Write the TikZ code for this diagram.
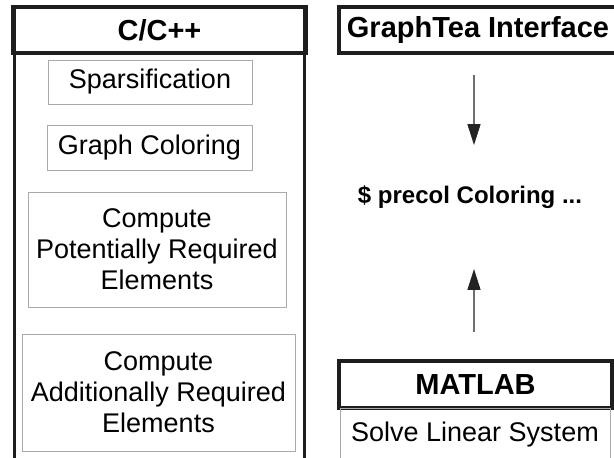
\documentclass[tikz,border=0pt]{standalone}
\usepackage{fontspec}
\setmainfont{Liberation Sans}
\usepackage{tikz}
\usetikzlibrary{arrows.meta, positioning}
\definecolor{framecolor}{RGB}{30, 30, 30}
\definecolor{boxcolor}{RGB}{170, 170, 170}
\definecolor{arrowcolor}{RGB}{110, 110, 110}
\definecolor{headcolor}{RGB}{35, 35, 35}

\tikzset{
    header/.style={draw=framecolor, line width=4.5pt, minimum height=46pt, inner sep=0pt, font=\fontsize{29}{33}\selectfont\bfseries},
    stepbox/.style={draw=boxcolor, line width=1pt, inner sep=0pt, align=center, font=\fontsize{27}{31}\selectfont},
    flow/.style={draw=arrowcolor, line width=1.5pt, -{Triangle[length=21pt, width=13pt, fill=headcolor, color=headcolor]}},
    column/.style={draw=framecolor, line width=3pt}
}

\begin{document}
\begin{tikzpicture}[x=1pt, y=-1pt]
        \clip (0, 0) rectangle (614, 458);
        \useasboundingbox (0, 0) rectangle (614, 458);

        % C/C++ column
        \node[header, minimum width=292pt] (cpp) at (159.5, 30) {C/C++};
        \coordinate (cppleft) at (14, 462);
        \coordinate (cppright) at (304, 462);
        \draw[column] (cpp.south west -| cppleft) -- (cppleft);
        \draw[column] (cpp.south east -| cppright) -- (cppright);

        % Stages inside the column
        \node[stepbox, minimum width=204pt, minimum height=44pt] (sparse) at (150, 82) {Sparsification};
        \node[stepbox, minimum width=205pt, minimum height=45pt] (coloring) at (149.5, 147.5) {Graph Coloring};
        \node[stepbox, minimum width=258pt, minimum height=115pt] (potential) at (157, 249.5) {Compute\\Potentially Required\\Elements};
        \node[stepbox, minimum width=273pt, minimum height=117pt] (additional) at (158.5, 392.5) {Compute\\Additionally Required\\Elements};

        % GraphTea side
        \node[header, minimum width=278pt] (graphtea) at (478, 30) {GraphTea Interface};
        \node[font=\fontsize{24}{28}\selectfont\bfseries] (precol) at (470, 197) {\$ precol Coloring ...};

        % MATLAB side
        \node[header, minimum width=273pt, minimum height=47pt] (matlab) at (475.5, 384.5) {MATLAB};
        \node[stepbox, minimum width=270pt, minimum height=54pt] (solve) at (475, 435) {Solve Linear System};

        % Arrows
        \draw[flow, shorten <=20pt, shorten >=37pt] (graphtea.south -| 474, 0) -- (precol.north -| 474, 0);
        \draw[flow, shorten <=27pt, shorten >=57pt] (matlab.north -| 474, 0) -- (precol.south -| 474, 0);

    \end{tikzpicture}
\end{document}
